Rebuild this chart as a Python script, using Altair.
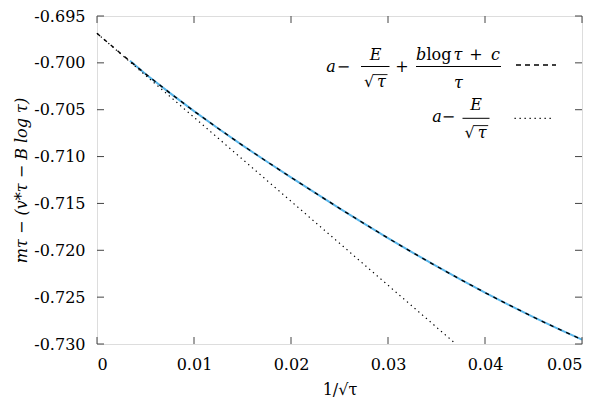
import altair as alt
import pandas as pd

FONT = "DejaVu Serif"
FS = 16

# fit curve a - E/sqrt(tau) + (b log tau + c)/tau
fit_x = [0.0, 0.0025, 0.005, 0.0075, 0.01, 0.0125, 0.015, 0.0175, 0.02, 0.0225,
         0.025, 0.0275, 0.03, 0.0325, 0.035, 0.0375, 0.04, 0.0425, 0.045, 0.0475, 0.05]
fit_y = [-0.69685, -0.69905, -0.70118, -0.70320, -0.70515, -0.70700, -0.70880,
         -0.71053, -0.71222, -0.71388, -0.71552, -0.71712, -0.71870, -0.72022,
         -0.72170, -0.72313, -0.72452, -0.72585, -0.72714, -0.72836, -0.72953]

# measured data (blue)
data_x = [0.0034, 0.005, 0.0075, 0.01, 0.0125, 0.015, 0.0175, 0.02, 0.0225,
          0.025, 0.0275, 0.03, 0.0325, 0.035, 0.0375, 0.04, 0.0425, 0.045, 0.0475, 0.05]
data_y = [-0.69977, -0.70118, -0.70320, -0.70515, -0.70700, -0.70880,
          -0.71053, -0.71222, -0.71388, -0.71552, -0.71712, -0.71870, -0.72022,
          -0.72170, -0.72313, -0.72452, -0.72585, -0.72714, -0.72836, -0.72953]

# leading-order line a - E/sqrt(tau)
lin_x = [0.0, 0.0370]
lin_y = [-0.69685, -0.730]

x_ticks = [0.0, 0.01, 0.02, 0.03, 0.04, 0.05]
y_ticks = [-0.730, -0.725, -0.720, -0.715, -0.710, -0.705, -0.700, -0.695]

W, H = 485, 328
XD = [0.0, 0.05]
YD = [-0.730, -0.695]

xs = alt.Scale(domain=XD, nice=False, zero=False)
ys = alt.Scale(domain=YD, nice=False, zero=False)

x_axis = alt.Axis(values=x_ticks, ticks=False, domain=False, grid=False,
                  labelExpr="datum.value == 0 ? '0' : format(datum.value, '.2f')",
                  labelFont=FONT, labelFontSize=FS, labelColor="black", labelPadding=12,
                  title="1/√τ", titleFont=FONT, titleFontSize=FS, titleFontWeight="normal",
                  titleColor="black", titlePadding=9)
y_axis = alt.Axis(values=y_ticks, ticks=False, domain=False, grid=False, format=".3f",
                  labelExpr="replace(datum.label, '−', '-')",
                  labelFont=FONT, labelFontSize=FS, labelColor="black", labelPadding=12,
                  title="mτ − (v*τ − B log τ)", titleFont=FONT, titleFontSize=FS,
                  titleFontStyle="italic", titleFontWeight="normal", titleColor="black",
                  titleX=-76, titleY=H / 2, titleAngle=270, titleBaseline="middle",
                  titleAlign="center")

fit_df = pd.DataFrame({"x": fit_x, "y": fit_y})
data_df = pd.DataFrame({"x": data_x, "y": data_y})
lin_df = pd.DataFrame({"x": lin_x, "y": lin_y})
xt_df = pd.DataFrame({"x": x_ticks})
yt_df = pd.DataFrame({"y": y_ticks})
one = pd.DataFrame({"k": [0]})

blue = alt.Chart(data_df).mark_line(color="#56b4e9", strokeWidth=2).encode(
    x=alt.X("x:Q", scale=xs, axis=x_axis), y=alt.Y("y:Q", scale=ys, axis=y_axis))
dashed = alt.Chart(fit_df).mark_line(color="black", strokeWidth=1.4, strokeDash=[4, 5]).encode(
    x=alt.X("x:Q", scale=xs), y=alt.Y("y:Q", scale=ys))
dotted = alt.Chart(lin_df).mark_line(color="black", strokeWidth=1.2, strokeDash=[1.3, 3.7]).encode(
    x=alt.X("x:Q", scale=xs), y=alt.Y("y:Q", scale=ys))

TL = 7
tick_style = dict(color="#444444", strokeWidth=1)
xt_bot = alt.Chart(xt_df).mark_rule(**tick_style).encode(
    x=alt.X("x:Q", scale=xs), y=alt.value(H), y2=alt.value(H - TL))
xt_top = alt.Chart(xt_df).mark_rule(**tick_style).encode(
    x=alt.X("x:Q", scale=xs), y=alt.value(0), y2=alt.value(TL))
yt_left = alt.Chart(yt_df).mark_rule(**tick_style).encode(
    y=alt.Y("y:Q", scale=ys), x=alt.value(0), x2=alt.value(TL))
yt_right = alt.Chart(yt_df).mark_rule(**tick_style).encode(
    y=alt.Y("y:Q", scale=ys), x=alt.value(W - TL), x2=alt.value(W))

DY = -7  # legend offset relative to the shifted plot top


def txt(s, x, y, style="normal", size=FS):
    return alt.Chart(one).mark_text(text=s, font=FONT, fontSize=size, fontStyle=style,
                                    align="center", baseline="alphabetic", color="black").encode(
        x=alt.value(x), y=alt.value(y + DY))


def hline(x1, x2, y, dash=None, width=1):
    kw = dict(color="black", strokeWidth=width)
    if dash:
        kw["strokeDash"] = dash
    return alt.Chart(one).mark_rule(**kw).encode(
        x=alt.value(x1), x2=alt.value(x2), y=alt.value(y + DY))


legend = [
    # line 1
    txt("a", 234, 62.7, "italic"),
    txt("−", 246.5, 62.7),
    hline(264, 292.5, 57.5),
    txt("E", 278.5, 51, "italic"),
    txt("√", 272, 78),
    txt("τ", 284.5, 78, "italic"),
    hline(276.5, 290.5, 65.6, width=0.9),
    txt("+", 305, 62.7),
    hline(319, 404, 57.5),
    txt("b", 324, 51, "italic"),
    txt("log", 342, 51),
    txt("τ", 361, 51, "italic"),
    txt("+", 379, 51),
    txt("c", 398.5, 51, "italic"),
    txt("τ", 361.5, 79, "italic"),
    hline(419, 459, 56, dash=[5, 4], width=1.4),
    # line 2
    txt("a", 340, 113.3, "italic"),
    txt("−", 351.5, 113.3),
    hline(365.5, 392.5, 109.3),
    txt("E", 379.2, 101, "italic"),
    txt("√", 372.7, 129),
    txt("τ", 385.2, 129, "italic"),
    hline(377.2, 391.2, 116.6, width=0.9),
    hline(417.5, 457.5, 109.3, dash=[1.3, 3.7], width=1.2),
]

chart = alt.layer(blue, dashed, dotted, xt_bot, xt_top, yt_left, yt_right, *legend).properties(
    width=W, height=H,
    autosize=alt.AutoSizeParams(type="none"),
    padding={"left": 89, "top": 8, "right": 9, "bottom": 53},
).configure_view(stroke="#333333", strokeWidth=1.2).configure(background="white")

chart.save("out.html", embed_options={"renderer": "svg", "actions": False})
